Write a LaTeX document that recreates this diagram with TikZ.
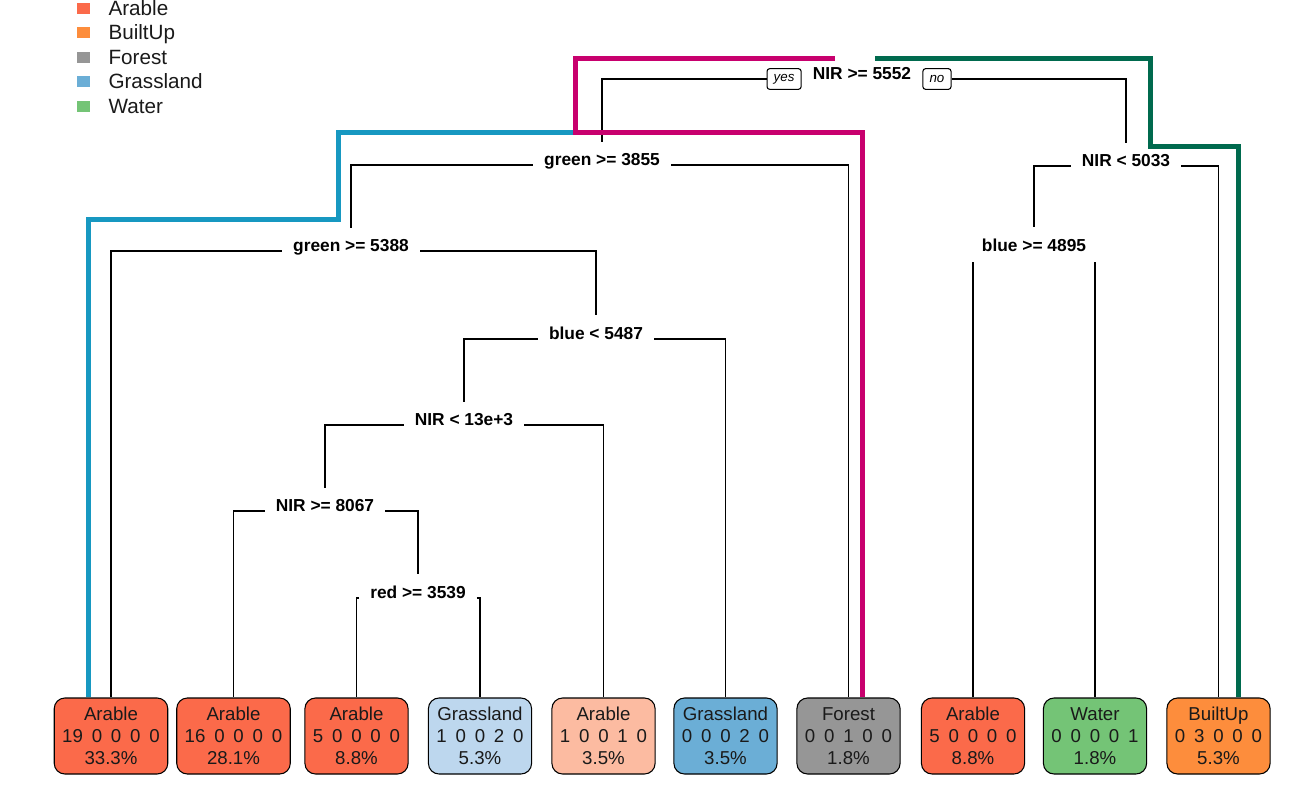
\documentclass[tikz,border=0pt]{standalone}
\usepackage{fontspec}
\setmainfont{Liberation Sans}
\newfontfamily\leaffont[WordSpace=1.7]{Liberation Sans}
\usepackage{tikz}
\usetikzlibrary{positioning}
\definecolor{arable}{HTML}{FB6A4A}
\definecolor{arablelt}{HTML}{FCBBA1}
\definecolor{builtup}{HTML}{FD8D3C}
\definecolor{forest}{HTML}{969696}
\definecolor{grass}{HTML}{6BAED6}
\definecolor{grasslt}{HTML}{BDD7EE}
\definecolor{water}{HTML}{74C476}
\definecolor{hlmag}{HTML}{C8006E}
\definecolor{hlblue}{HTML}{1798C1}
\definecolor{hlgreen}{HTML}{006A4E}
\definecolor{ink}{HTML}{1A1A1A}
\tikzset{
	split/.style={anchor=base, inner sep=8pt, font=\bfseries\fontsize{13}{15}\selectfont},
	leaf/.style={draw, rounded corners=8pt, align=center, minimum width=77pt, minimum height=57pt,
		inner xsep=6pt, text=ink, font=\leaffont\fontsize{14}{16.5}\selectfont},
	yesno/.style={draw, rounded corners=2pt, inner xsep=5pt, inner ysep=2pt, minimum height=15.5pt,
		font=\itshape\fontsize{10}{11}\selectfont},
	legtext/.style={anchor=base west, inner sep=0, text=ink, font=\fontsize{15.5}{17}\selectfont},
	hl/.style={line width=3.75pt}
}
\begin{document}
\begin{tikzpicture}[x=0.75pt, y=-0.75pt, line width=0.8pt]
\useasboundingbox (0,0) rectangle (1307,801);
% legend
\foreach \c/\t [count=\i] in {arable/Arable, builtup/BuiltUp, forest/Forest, grass/Grassland, water/Water} {
	\fill[\c] (77, {24.6*\i-22.1}) rectangle +(13, 11);
	\node[legtext] (leg\i) at (108, {24.6*\i-9.6}) {\t};
}
% splits
\node[split] (root) at (862, 79) {NIR >= 5552};
\node[yesno, left=0pt of root.base west] (yes) {yes};
\node[yesno, right=0pt of root.base east] (no) {no};
\node[split] (g3855) at (602, 165) {green >= 3855};
\node[split] (g5388) at (351, 251) {green >= 5388};
\node[split] (b5487) at (596, 339) {blue < 5487};
\node[split] (n13e3) at (464, 425) {NIR < 13e+3};
\node[split] (n8067) at (325, 511) {NIR >= 8067};
\node[split] (r3539) at (418, 598) {red >= 3539};
\node[split] (n5033) at (1126, 166) {NIR < 5033};
\node[split] (b4895) at (1034, 251) {blue >= 4895};
% leaves
\foreach \n/\x/\c/\cl/\cnt/\pc in {
	l1/111/arable/Arable/19 0 0 0 0/33.3,
	l2/233.5/arable/Arable/16 0 0 0 0/28.1,
	l3/356.5/arable/Arable/5 0 0 0 0/8.8,
	l4/480/grasslt/Grassland/1 0 0 2 0/5.3,
	l5/603.5/arablelt/Arable/1 0 0 1 0/3.5,
	l6/725.5/grass/Grassland/0 0 0 2 0/3.5,
	l7/848.5/forest/Forest/0 0 1 0 0/1.8,
	l8/973/arable/Arable/5 0 0 0 0/8.8,
	l9/1095/water/Water/0 0 0 0 1/1.8,
	l10/1218.5/builtup/BuiltUp/0 3 0 0 0/5.3} {
	\node[leaf, fill=\c] (\n) at (\x, 736) {\cl\\\cnt\\\pc\%};
}
% branches
\draw (yes.west) -| (g3855.north);
\draw (no.east) -| (n5033.north);
\draw (g3855.base west) -| (g5388.north);
\draw (g3855.base east) -| (l7.north);
\draw (g5388.base west) -| (l1.north);
\draw (g5388.base east) -| (b5487.north);
\draw (b5487.base west) -| (n13e3.north);
\draw (b5487.base east) -| (l6.north);
\draw (n13e3.base west) -| (n8067.north);
\draw (n13e3.base east) -| (l5.north);
\draw (n8067.base west) -| (l2.north);
\draw (n8067.base east) -| (r3539.north);
\draw (r3539.base west) -| (l3.north);
\draw (r3539.base east) -| (l4.north);
\draw (n5033.base west) -| (b4895.north);
\draw (n5033.base east) -| (l10.north);
\draw (b4895.south -| l8.north) -- (l8.north);
\draw (b4895.south -| l9.north) -- (l9.north);
% highlighted paths
\draw[hl, hlblue] (575,132) -- (338,132) -- (338,219) -- (88,219) -- (88,0 |- l1.north);
\draw[hl, hlmag] (835,58) -- (575,58) -- (575,132) -- (862,132) -- (862,0 |- l7.north);
\draw[hl, hlgreen] (875,58) -- (1150,58) -- (1150,146) -- (1238,146) -- (1238,0 |- l10.north);
\end{tikzpicture}
\end{document}
